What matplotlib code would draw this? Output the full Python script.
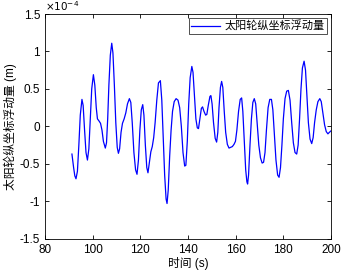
import numpy as np
import matplotlib
matplotlib.use("Agg")
import matplotlib.pyplot as plt
from matplotlib.ticker import FuncFormatter

plt.rcParams['font.family'] = ['Liberation Sans', 'Noto Sans CJK SC', 'DejaVu Sans']
plt.rcParams['axes.unicode_minus'] = False

# time (s) and displacement (x 1e-4 m)
t = [91.3, 92.0, 92.5, 93.0, 93.6, 94.2, 94.8, 95.5, 96.0, 96.6, 97.2, 97.8, 98.4, 99.0,
     99.6, 100.3, 100.9, 101.5, 102.0, 102.7, 103.3, 103.9, 104.5, 105.3, 105.8, 106.3,
     106.8, 107.4, 108.0, 108.5, 109.1, 109.7, 110.3, 110.8, 111.3, 111.9, 112.5, 113.2,
     113.9, 114.6, 115.4, 116.0, 116.6, 117.3, 118.0, 118.6, 119.2, 119.8, 120.4, 121.0,
     121.5, 122.1, 122.7, 123.2, 123.8, 124.4, 125.0, 125.6, 126.2, 126.9, 127.6, 128.4,
     129.0, 129.6, 130.2, 130.8, 131.2, 131.7, 132.3, 132.9, 133.5, 134.2, 135.0, 135.8,
     136.5, 137.2, 137.9, 138.6, 139.1, 139.7, 140.3, 140.9, 141.6, 142.1, 142.7, 143.3,
     143.9, 144.4, 145.0, 145.6, 146.1, 146.7, 147.4, 147.9, 148.5, 149.2, 149.6, 150.1,
     150.7, 151.4, 152.0, 152.5, 153.0, 153.6, 154.1, 154.6, 155.2, 155.8, 156.5, 157.2,
     157.9, 158.6, 159.3, 159.9, 160.5, 161.2, 161.9, 162.5, 163.0, 163.6, 164.2, 164.7,
     165.0, 165.4, 166.0, 166.6, 167.2, 167.8, 168.4, 169.0, 169.7, 170.4, 171.1, 171.7,
     172.3, 172.9, 173.6, 174.3, 175.0, 175.6, 176.2, 176.9, 177.6, 178.2, 178.8, 179.4,
     180.0, 180.7, 181.4, 182.1, 182.8, 183.5, 184.2, 184.9, 185.6, 186.2, 186.8, 187.4,
     188.0, 188.7, 189.3, 189.9, 190.5, 191.2, 191.9, 192.5, 193.1, 193.8, 194.5, 195.3,
     195.9, 196.6, 197.3, 198.0, 198.7, 199.3, 200.0]
disp = [-0.37, -0.55, -0.66, -0.70, -0.60, -0.25, 0.15, 0.36, 0.28, -0.05, -0.35, -0.45, -0.30, 0.10,
        0.50, 0.69, 0.55, 0.25, 0.10, 0.07, 0.04, -0.05, -0.20, -0.29, -0.22, 0.10,
        0.55, 0.95, 1.11, 0.98, 0.55, 0.05, -0.28, -0.36, -0.30, -0.08, 0.04, 0.10,
        0.18, 0.30, 0.37, 0.32, 0.05, -0.35, -0.58, -0.64, -0.45, -0.05, 0.22, 0.29,
        0.15, -0.25, -0.55, -0.62, -0.48, -0.34, -0.27, -0.15, 0.05, 0.35, 0.58, 0.61,
        0.35, -0.15, -0.65, -0.97, -1.03, -0.85, -0.40, -0.05, 0.20, 0.33, 0.37, 0.35,
        0.25, 0.00, -0.35, -0.53, -0.52, -0.20, 0.30, 0.65, 0.80, 0.72, 0.40, 0.10,
        -0.02, -0.03, 0.10, 0.24, 0.26, 0.20, 0.15, 0.16, 0.28, 0.40, 0.41, 0.30,
        0.05, -0.16, -0.21, -0.08, 0.25, 0.52, 0.60, 0.52, 0.20, -0.08, -0.24, -0.29,
        -0.28, -0.27, -0.24, -0.20, -0.05, 0.20, 0.36, 0.38, 0.20, -0.20, -0.58, -0.74,
        -0.77, -0.65, -0.25, 0.10, 0.32, 0.37, 0.30, 0.05, -0.25, -0.42, -0.49, -0.48,
        -0.35, -0.05, 0.25, 0.36, 0.36, 0.22, -0.10, -0.45, -0.65, -0.68, -0.55, -0.25,
        0.10, 0.37, 0.47, 0.48, 0.35, 0.05, -0.22, -0.35, -0.37, -0.25, 0.10, 0.50,
        0.78, 0.87, 0.75, 0.40, 0.05, -0.17, -0.23, -0.15, 0.05, 0.22, 0.33, 0.37,
        0.33, 0.18, 0.02, -0.07, -0.10, -0.08, -0.06]

fig = plt.figure(figsize=(3.42, 2.72), dpi=100)
ax = fig.add_axes([0.1316, 0.1224, 0.8363, 0.8261])

ax.plot(t, np.array(disp) * 1e-4, color='#0000ff', lw=0.9, label='太阳轮纵坐标浮动量')

ax.set_xlim(80, 200)
ax.set_ylim(-1.5e-4, 1.5e-4)
ax.set_xticks([80, 100, 120, 140, 160, 180, 200])
ax.set_yticks(np.arange(-1.5, 1.51, 0.5) * 1e-4)
ax.yaxis.set_major_formatter(FuncFormatter(lambda v, p: '%g' % round(v / 1e-4, 2)))
ax.tick_params(direction='in', top=True, right=True, labelsize=8.5, length=3, width=0.6)
for s in ax.spines.values():
    s.set_linewidth(0.6)

ax.text(0.0, 1.005, r'$\times10^{-4}$', transform=ax.transAxes, fontsize=7.5,
        ha='left', va='bottom')

ax.set_xlabel('时间 (s)', fontsize=8.5, labelpad=1)
ax.set_ylabel('太阳轮纵坐标浮动量 (m)', fontsize=8.5, labelpad=2)

leg = ax.legend(loc='upper right', fontsize=8, frameon=True, fancybox=False,
                borderpad=0.2, handlelength=2.6, handletextpad=0.4,
                borderaxespad=0.4)
leg.get_frame().set_edgecolor('black')
leg.get_frame().set_linewidth(0.6)

fig.savefig('out.png', dpi=100)
